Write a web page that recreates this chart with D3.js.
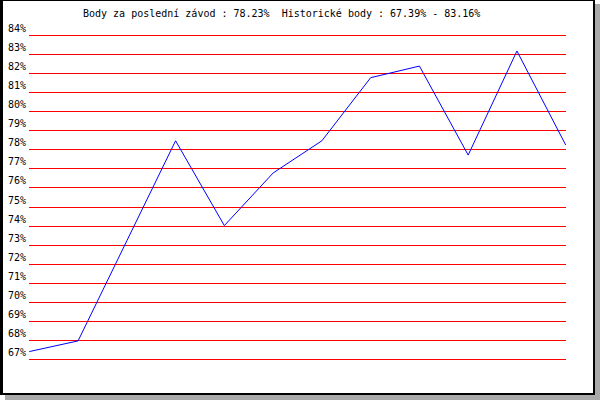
<!DOCTYPE html>
<html>
<head>
<meta charset="utf-8">
<script src="https://cdn.jsdelivr.net/npm/d3@7"></script>
<style>
  body { margin: 0; background: #fff; }
  svg { display: block; }
  text { white-space: pre; }
</style>
</head>
<body>
<div id="chart"></div>
<script>
// values (percent)
const points = [67.39, 67.95, 73.20, 78.45, 74.00, 76.76, 78.45, 81.76, 82.37, 77.70, 83.16, 78.23];
const ticks = d3.range(67, 85); // 67% .. 84%
const title = "Body za poslední závod : 78.23%  Historické body : 67.39% - 83.16%";

const width = 600, height = 400;

const svg = d3.select("#chart").append("svg")
    .attr("width", width)
    .attr("height", height)
    .attr("font-family", "'DejaVu Sans Mono', monospace")
    .attr("font-size", 10);

// shadow + frame
svg.append("rect").attr("x", 5).attr("y", 4).attr("width", 595).attr("height", 396).attr("fill", "#a9a9a9");
svg.append("rect").attr("x", 0).attr("y", 0).attr("width", 595).attr("height", 395).attr("fill", "#000");
svg.append("rect").attr("x", 3).attr("y", 1).attr("width", 590).attr("height", 392).attr("fill", "#fff");

const x = d3.scalePoint()
    .domain(d3.range(points.length))
    .range([29.3, 565.7]);

const y = d3.scaleLinear()
    .domain([67, 84])
    .range([359, 35]);

// grid lines
svg.append("g")
    .attr("stroke", "#ff0000")
    .attr("shape-rendering", "crispEdges")
  .selectAll("line")
  .data(ticks)
  .join("line")
    .attr("x1", 29)
    .attr("x2", 566)
    .attr("y1", d => Math.round(y(d)) + 0.5)
    .attr("y2", d => Math.round(y(d)) + 0.5);

// tick labels
svg.append("g")
  .selectAll("text")
  .data(ticks)
  .join("text")
    .attr("x", 8)
    .attr("y", d => Math.round(y(d)) - 3)
    .attr("fill", "#000")
    .text(d => d + "%");

// title
svg.append("text")
    .attr("x", 83)
    .attr("y", 17)
    .attr("fill", "#000")
    .text(title);

// the line
const line = d3.line()
    .x((d, i) => x(i))
    .y(d => y(d));

svg.append("path")
    .datum(points)
    .attr("fill", "none")
    .attr("stroke", "#0000ff")
    .attr("stroke-width", 1)
    .attr("d", line);
</script>
</body>
</html>
